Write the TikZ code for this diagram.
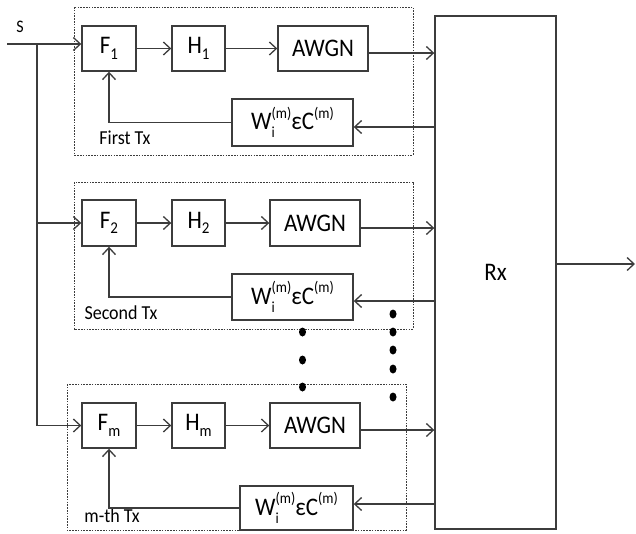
\documentclass[tikz,border=0pt]{standalone}
\usepackage{fontspec}
\setmainfont{Carlito}
\usetikzlibrary{arrows.meta,shapes.geometric}
\definecolor{ln}{HTML}{3C3C3C}
\tikzset{
  blk/.style={draw=ln, line width=1.4pt, minimum height=45pt, inner sep=0pt, font=\fontsize{23}{23}\selectfont},
  grp/.style={draw=ln, line width=0.9pt, dash pattern=on 1.6pt off 1.2pt},
  con/.style={draw=ln, line width=1.3pt},
  arr/.style={con, -{Straight Barb[length=7pt,width=13pt,line width=1.3pt]}},
  lbl/.style={inner sep=0pt, font=\fontsize{18}{18}\selectfont},
  dotm/.style={fill=black, ellipse, minimum width=7pt, minimum height=9pt, inner sep=0pt},
}
\newcommand{\sy}[1]{\scalebox{1}[1.1]{#1}}
\newcommand{\smf}{\fontsize{14}{14}\selectfont}
\newcommand{\wlabel}{\sy{W\rlap{\raisebox{-0.65ex}{\smf i}}\raisebox{0.95ex}{\smf (m)}εC\raisebox{0.95ex}{\smf (m)}}}
\newcommand{\sub}[2]{\sy{#1\raisebox{-0.45ex}{\fontsize{15}{15}\selectfont #2}}}
\begin{document}
\begin{tikzpicture}[x=1pt,y=-1pt]
\useasboundingbox (0,0) rectangle (636,533);
% group boxes
\draw[grp] (74,7) rectangle (413,155);
\draw[grp] (74,182) rectangle (413,329);
\draw[grp] (67,384) rectangle (406,530);
% Rx
\node[blk, minimum width=121pt, minimum height=513pt] (rx) at (495.5,272.5) {\sy{Rx}};
% row 1
\node[blk, minimum width=54pt] (f1) at (109,48.5) {\sub{F}{1}};
\node[blk, minimum width=53pt] (h1) at (198.5,48.5) {\sub{H}{1}};
\node[blk, minimum width=90pt] (a1) at (323,48.5) {\sy{AWGN}};
\node[blk, minimum width=121pt, minimum height=47pt] (w1) at (292.5,122.5) {\wlabel};
% row 2
\node[blk, minimum width=54pt, minimum height=46pt] (f2) at (109,223) {\sub{F}{2}};
\node[blk, minimum width=53pt, minimum height=46pt] (h2) at (198.5,223) {\sub{H}{2}};
\node[blk, minimum width=90pt, minimum height=46pt] (a2) at (315,223) {\sy{AWGN}};
\node[blk, minimum width=121pt, minimum height=46pt] (w2) at (292.5,297) {\wlabel};
% row 3
\node[blk, minimum width=54pt] (f3) at (109,425.5) {\sub{F}{m}};
\node[blk, minimum width=53pt] (h3) at (198.5,425.5) {\sub{H}{m}};
\node[blk, minimum width=90pt] (a3) at (315,425.5) {\sy{AWGN}};
\node[blk, minimum width=113pt, minimum height=44pt] (w3) at (296.5,508) {\wlabel};
% labels
\node[lbl, font=\fontsize{16}{16}\selectfont] (s) at (20,27) {\sy{S}};
\node[lbl] (t1) at (125,138) {\sy{First Tx}};
\node[lbl] (t2) at (121,313) {\sy{Second Tx}};
\node[lbl] (t3) at (112,516) {\sy{m-th Tx}};
% input
\coordinate (in) at (7,44);
\coordinate (br) at (37,44);
\draw[arr] (in) -- (in -| f1.west);
\draw[con] (br) -- (br |- f3.west);
\draw[arr] (br |- f2.west) -- (f2.west);
\draw[arr] (br |- f3.west) -- (f3.west);
% forward chains
\draw[arr] (f1) -- (h1);
\draw[arr] (h1) -- (a1);
\draw[arr] (f2) -- (h2);
\draw[arr] (h2) -- (a2);
\draw[arr] (f3) -- (h3);
\draw[arr] (h3) -- (a3);
% to Rx
\coordinate (o1) at (368,53);
\coordinate (o2) at (360,228);
\coordinate (o3) at (360,430);
\draw[arr] (o1) -- (o1 -| rx.west);
\draw[arr] (o2) -- (o2 -| rx.west);
\draw[arr] (o3) -- (o3 -| rx.west);
% feedback from Rx
\coordinate (r1) at (435,127);
\coordinate (r2) at (435,301);
\coordinate (r3) at (435,504);
\draw[arr] (r1) -- (r1 -| w1.east);
\draw[arr] (r2) -- (r2 -| w2.east);
\draw[arr] (r3) -- (r3 -| w3.east);
% feedback to F
\draw[arr] (w1.west) -| (f1.south);
\draw[arr] (w2.west) -| (f2.south);
\draw[arr] (w3.west) -| (f3.south);
% output
\coordinate (out) at (635,264);
\draw[arr] (out -| rx.east) -- (out);
% dots
\foreach \y in {332,360,387} \node[dotm] at (302.5,\y) {};
\foreach \y in {314,332,350,369,397} \node[dotm] at (393,\y) {};
\end{tikzpicture}
\end{document}
